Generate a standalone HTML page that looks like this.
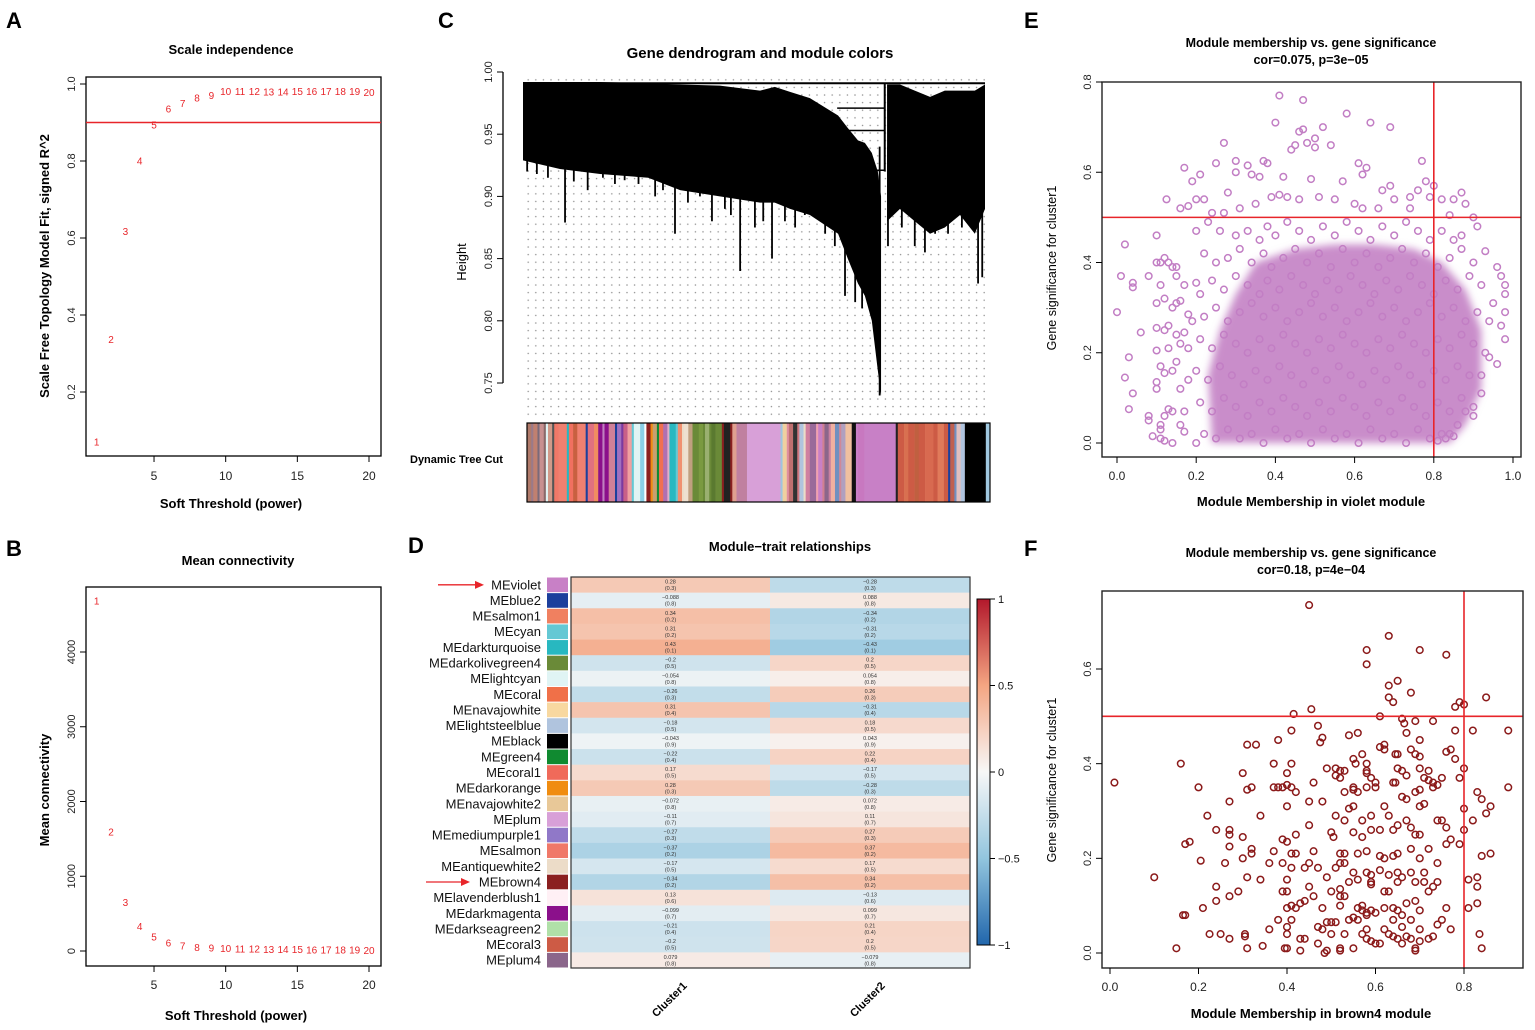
<!DOCTYPE html>
<html><head><meta charset="utf-8"><title>WGCNA figure</title>
<style>
html,body{margin:0;padding:0;background:#fff;}
svg{display:block;font-family:"Liberation Sans",Arial,sans-serif;}
.b{font-weight:bold;}
</style></head>
<body>
<svg id="fig" width="1535" height="1030" viewBox="0 0 1535 1030" xmlns="http://www.w3.org/2000/svg">
<defs>
<pattern id="dots" x="0" y="0" width="7.6" height="7.6" patternUnits="userSpaceOnUse"><circle cx="3.8" cy="3.8" r="0.75" fill="#8a8a8a"/></pattern>
<linearGradient id="cbar" x1="0" y1="0" x2="0" y2="1">
<stop offset="0" stop-color="#b2182b"/><stop offset="0.25" stop-color="#f4a582"/><stop offset="0.5" stop-color="#f7f7f7"/><stop offset="0.75" stop-color="#92c5de"/><stop offset="1" stop-color="#2166ac"/>
</linearGradient>
<filter id="soft" x="-10%" y="-10%" width="120%" height="120%"><feGaussianBlur stdDeviation="4"/></filter>
</defs>
<text x="6" y="28" font-size="22" class="b">A</text>
<text x="6" y="556" font-size="22" class="b">B</text>
<text x="438" y="28" font-size="22" class="b">C</text>
<text x="408" y="553" font-size="22" class="b">D</text>
<text x="1024" y="28" font-size="22" class="b">E</text>
<text x="1024" y="556" font-size="22" class="b">F</text>

<g>
<text x="231" y="54" font-size="13" class="b" text-anchor="middle">Scale independence</text>
<rect x="86" y="77" width="295" height="379" fill="none" stroke="#000" stroke-width="1.3"/>
<text x="231" y="508" font-size="13" class="b" text-anchor="middle">Soft Threshold (power)</text>
<text transform="translate(49,266) rotate(-90)" font-size="13" class="b" text-anchor="middle">Scale Free Topology Model Fit, signed R^2</text>
<g id="gA"></g>
</g>

<g>
<text x="238" y="565" font-size="13" class="b" text-anchor="middle">Mean connectivity</text>
<rect x="86" y="587" width="295" height="379" fill="none" stroke="#000" stroke-width="1.3"/>
<text x="236" y="1020" font-size="13" class="b" text-anchor="middle">Soft Threshold (power)</text>
<text transform="translate(49,790) rotate(-90)" font-size="13" class="b" text-anchor="middle">Mean connectivity</text>
<g id="gB"></g>
</g>

<g>
<text x="760" y="58" font-size="15" class="b" text-anchor="middle">Gene dendrogram and module colors</text>
<text transform="translate(466,262) rotate(-90)" font-size="13" text-anchor="middle">Height</text>
<text x="410" y="463" font-size="11" class="b">Dynamic Tree Cut</text>
<g id="gC"></g>
</g>

<g>
<text x="790" y="551" font-size="13" class="b" text-anchor="middle">Module−trait relationships</text>
<g id="gD"></g>
<text transform="translate(672,1002) rotate(-45)" font-size="11" class="b" text-anchor="middle">Cluster1</text>
<text transform="translate(870,1002) rotate(-45)" font-size="11" class="b" text-anchor="middle">Cluster2</text>
</g>

<g>
<text x="1311" y="47" font-size="12.5" class="b" text-anchor="middle">Module membership vs. gene significance</text>
<text x="1311" y="64" font-size="12.5" class="b" text-anchor="middle">cor=0.075, p=3e−05</text>
<text x="1311" y="506" font-size="13" class="b" text-anchor="middle">Module Membership in violet module</text>
<text transform="translate(1056,268) rotate(-90)" font-size="12.5" text-anchor="middle">Gene significance for  cluster1</text>
<g id="gE"></g>
</g>

<g>
<text x="1311" y="557" font-size="12.5" class="b" text-anchor="middle">Module membership vs. gene significance</text>
<text x="1311" y="574" font-size="12.5" class="b" text-anchor="middle">cor=0.18, p=4e−04</text>
<text x="1311" y="1018" font-size="13" class="b" text-anchor="middle">Module Membership in brown4 module</text>
<text transform="translate(1056,780) rotate(-90)" font-size="12.5" text-anchor="middle">Gene significance for  cluster1</text>
<g id="gF"></g>
</g>
</svg>

<script>
// ---------- DATA ----------
var powers = [1,2,3,4,5,6,7,8,9,10,11,12,13,14,15,16,17,18,19,20];
var fitR2 = [0.07,0.336,0.617,0.80,0.893,0.935,0.95,0.963,0.97,0.98,0.98,0.98,0.979,0.979,0.98,0.981,0.981,0.98,0.981,0.978];
var meanK = [4680,1590,650,330,190,110,65,50,40,35,30,25,22,20,18,16,14,12,11,10];
var aXTicks = [5,10,15,20];
var aYTicks = [0.2,0.4,0.6,0.8,1.0];
var aYTickLabels = ["0.2","0.4","0.6","0.8","1.0"];
var bYTicks = [0,1000,2000,3000,4000];
var r2Cutoff = 0.9;

var dendroYTicks = [0.75,0.80,0.85,0.90,0.95,1.00];
var dendroYTickLabels = ["0.75","0.80","0.85","0.90","0.95","1.00"];
var clusterALeaf = [0,8,16.7,27.1,34,42.6,51.3,54.5,57.8,62.1,68.2,70.3,72.5,74,75.5,76.8,77.5];
var clusterATop  = [.992,.992,.992,.991,.99,.989,.985,.988,.984,.979,.965,.955,.945,.943,.935,.92,.90];
var clusterABot  = [.929,.922,.918,.915,.905,.90,.895,.895,.89,.885,.87,.85,.83,.82,.80,.76,.74];
var clusterBLeaf = [78.8,81.6,84.8,88.1,91.3,94.6,97.8,100];
var clusterBTop  = [.99,.99,.985,.98,.985,.985,.985,.99];
var clusterBBot  = [.88,.89,.88,.87,.875,.885,.87,.89];
var spikeLeaf = [0.9,5.4,9.1,14,17.3,19.9,22,28.6,30.3,32.9,35.7,38.3,40.9,43.7,47,50.2,52,53.9,56.7,58.9,61,65.4,67.5,69.7,71.9,73.4,77.2,79,82,84.8,87,89.2,92,95,98.5,99.4,3,11,25,45];
var spikeBot  = [.92,.915,.879,.905,.915,.91,.913,.90,.905,.87,.895,.90,.88,.89,.84,.875,.88,.85,.88,.875,.885,.87,.86,.82,.815,.81,.74,.86,.875,.86,.855,.87,.87,.875,.83,.835,.918,.912,.91,.885];
var mergeHeights = [.971,.953,.921];
var stripeWidths = [2,1,2,1,2,1,1,2,1,2,4,1,2,2,4,1,3,2,2,1,2,3,1,2,1,2,2,1,3,2,1,2,1,2,1,2,2,1,3,1,2,1,2,2,3,2,1,2,1,2,3,1,3,1,2,5,16,1,2,1,2,2,1,2,1,2,3,1,2,1,2,1,2,2,1,2,3,2,1,3,15,1,3,2,3,2,3,4,2,3,2,1,2,1,2,2,10,2];
var stripeColors = ["#b07a6a","#9a7a8a","#c08070","#7a6a7a","#c89090","#8a6a6a","#e0f4f4","#d09a8a","#555","#f07868","#f08070","#28b8c0","#f07060","#c86040","#f08070","#1c3f9c","#e07080","#f08c60","#8b108b","#c080c0","#8b108b","#d08098","#1c3f9c","#a070c0","#7a3aa0","#c86088","#f0a0a0","#64c8d4","#e0f4f4","#8bd0e8","#fff","#8b2020","#f08c10","#c8a070","#108a30","#f07050","#b070b0","#e0b0c8","#28b8c0","#64c8d4","#f09070","#ecdcc8","#eee0d0","#c0a080","#6a8a38","#7a9a40","#6a8a38","#9ab070","#6a8a38","#5a7a30","#6a8a38","#8b2020","#222","#8b2020","#e0a090","#c080a0","#d8a0d8","#a0c4de","#f0d0a0","#e090a0","#c07070","#333","#d07880","#b0c4de","#ecdcc8","#d080a0","#9a6a9a","#f0a0b0","#c880c6","#d08090","#8b668b","#c880a0","#f0b0a0","#7090c0","#d08898","#b0a0c0","#f0c0a0","#111","#c880c6","#c878c0","#c880c6","#222","#cd5b45","#d87050","#cd5b45","#c06040","#cd5b45","#d86a50","#cd5b45","#e07a5a","#cd5b45","#1c3f9c","#c06050","#7090c0","#e0c0c0","#b0c4de","#000","#a0c8e0"];

var moduleNames = ["MEviolet","MEblue2","MEsalmon1","MEcyan","MEdarkturquoise","MEdarkolivegreen4","MElightcyan","MEcoral","MEnavajowhite","MElightsteelblue","MEblack","MEgreen4","MEcoral1","MEdarkorange","MEnavajowhite2","MEplum","MEmediumpurple1","MEsalmon","MEantiquewhite2","MEbrown4","MElavenderblush1","MEdarkmagenta","MEdarkseagreen2","MEcoral3","MEplum4"];
var moduleColors = ["#c880c6","#1c3f9c","#f08060","#64c8d4","#28b8c0","#6a8a38","#e0f4f4","#f07048","#f8d8a0","#b0c4de","#000000","#108a30","#f06a5a","#f08c10","#e8c898","#d8a0d8","#9078c8","#f07868","#ecdcc8","#8b2020","#fff0f5","#8b108b","#b0e0a8","#cd5b45","#8b668b"];
var corCluster1 = [0.28,-0.088,0.34,0.31,0.43,-0.2,-0.054,-0.26,0.31,-0.18,-0.043,-0.22,0.17,0.28,-0.072,-0.11,-0.27,-0.37,-0.17,-0.34,0.13,-0.099,-0.21,-0.2,0.079];
var corCluster2 = [-0.28,0.088,-0.34,-0.31,-0.43,0.2,0.054,0.26,-0.31,0.18,0.043,0.22,-0.17,-0.28,0.072,0.11,0.27,0.37,0.17,0.34,-0.13,0.099,0.21,0.2,-0.079];
var pvals = [0.3,0.8,0.2,0.2,0.1,0.5,0.8,0.3,0.4,0.5,0.9,0.4,0.5,0.3,0.8,0.7,0.3,0.2,0.5,0.2,0.6,0.7,0.4,0.5,0.8];
var arrowModules = ["MEviolet","MEbrown4"];
var cbarTicks = [1,0.5,0,-0.5,-1];
var cbarTickLabels = ["1","0.5","0","−0.5","−1"];

var eXTicks = [0,0.2,0.4,0.6,0.8,1.0];
var eXTickLabels = ["0.0","0.2","0.4","0.6","0.8","1.0"];
var eYTicks = [0,0.2,0.4,0.6,0.8];
var eYTickLabels = ["0.0","0.2","0.4","0.6","0.8"];
var eCutX = 0.8, eCutY = 0.5;
var eDenseX = [0.24,0.23,0.26,0.30,0.35,0.45,0.55,0.65,0.75,0.82,0.88,0.92,0.92,0.88,0.84];
var eDenseY = [0.0,0.15,0.25,0.33,0.40,0.43,0.44,0.44,0.43,0.40,0.34,0.25,0.12,0.04,0.0];
var violetPts = "0.41,0.77;0.47,0.76;0.58,0.73;0.40,0.71;0.64,0.71;0.69,0.70;0.46,0.69;0.47,0.695;0.52,0.70;0.50,0.675;0.54,0.66;0.27,0.665;0.48,0.665;0.50,0.655;0.44,0.65;0.45,0.66;0.17,0.61;0.25,0.62;0.30,0.625;0.37,0.625;0.38,0.62;0.33,0.615;0.30,0.60;0.21,0.595;0.19,0.58;0.34,0.595;0.36,0.59;0.42,0.59;0.49,0.585;0.57,0.58;0.61,0.62;0.63,0.61;0.62,0.595;0.77,0.625;0.78,0.58;0.80,0.57;0.69,0.57;0.76,0.56;0.67,0.56;0.87,0.555;0.85,0.54;0.88,0.53;0.90,0.50;0.91,0.48;0.125,0.54;0.16,0.52;0.18,0.525;0.20,0.54;0.22,0.54;0.24,0.51;0.27,0.51;0.28,0.555;0.31,0.52;0.35,0.53;0.39,0.545;0.41,0.55;0.43,0.545;0.46,0.54;0.51,0.545;0.55,0.54;0.60,0.53;0.62,0.52;0.66,0.52;0.70,0.54;0.74,0.545;0.74,0.52;0.79,0.545;0.82,0.54;0.84,0.505;0.20,0.47;0.10,0.46;0.02,0.44;0.10,0.40;0.11,0.40;0.12,0.41;0.13,0.40;0.14,0.39;0.15,0.39;0.15,0.37;0.08,0.37;0.01,0.37;0.04,0.355;0.04,0.345;0.11,0.35;0.17,0.35;0.20,0.355;0.12,0.32;0.10,0.31;0.14,0.30;0.15,0.31;0.16,0.315;0.18,0.285;0.19,0.27;0.00,0.29;0.06,0.245;0.10,0.255;0.12,0.25;0.13,0.26;0.15,0.24;0.17,0.245;0.16,0.22;0.13,0.21;0.18,0.21;0.10,0.205;0.03,0.19;0.11,0.17;0.15,0.18;0.14,0.16;0.02,0.145;0.12,0.155;0.10,0.135;0.10,0.12;0.16,0.12;0.04,0.11;0.18,0.14;0.03,0.075;0.08,0.06;0.08,0.05;0.12,0.06;0.13,0.075;0.14,0.07;0.17,0.07;0.11,0.04;0.11,0.03;0.09,0.015;0.11,0.01;0.12,0.005;0.14,0.0;0.16,0.04;0.17,0.025;0.20,0.0;0.93,0.425;0.96,0.39;0.97,0.37;0.98,0.35;0.98,0.33;0.95,0.31;0.98,0.29;0.97,0.26;0.98,0.23;0.96,0.175;0.94,0.19;0.92,0.15;0.92,0.11;0.90,0.08;0.90,0.06;0.88,0.07;0.86,0.04;0.84,0.02;0.85,0.015;0.83,0.01;0.81,0.005;" +
"0.23,0.49;0.26,0.47;0.30,0.46;0.33,0.47;0.36,0.45;0.38,0.48;0.40,0.46;0.43,0.49;0.46,0.47;0.49,0.45;0.52,0.48;0.55,0.46;0.58,0.49;0.61,0.47;0.64,0.45;0.67,0.48;0.70,0.46;0.73,0.49;0.76,0.47;0.79,0.45;0.82,0.47;0.85,0.45;0.87,0.46;" +
"0.22,0.42;0.25,0.40;0.28,0.41;0.31,0.43;0.34,0.40;0.37,0.42;0.39,0.39;0.42,0.41;0.45,0.43;0.48,0.40;0.51,0.42;0.54,0.39;0.57,0.43;0.60,0.40;0.63,0.42;0.66,0.39;0.69,0.41;0.72,0.43;0.75,0.40;0.78,0.42;0.81,0.39;0.84,0.41;0.87,0.43;0.90,0.40;" +
"0.21,0.33;0.24,0.36;0.27,0.34;0.30,0.37;0.33,0.35;0.36,0.33;0.38,0.36;0.41,0.34;0.44,0.37;0.47,0.35;0.50,0.33;0.53,0.36;0.56,0.34;0.59,0.37;0.62,0.35;0.65,0.33;0.68,0.36;0.71,0.34;0.74,0.37;0.77,0.35;0.80,0.33;0.83,0.36;0.86,0.34;0.89,0.37;0.92,0.35;" +
"0.22,0.28;0.25,0.30;0.28,0.27;0.31,0.29;0.34,0.31;0.37,0.28;0.40,0.30;0.43,0.27;0.46,0.29;0.49,0.31;0.52,0.28;0.55,0.30;0.58,0.27;0.61,0.29;0.64,0.31;0.67,0.28;0.70,0.30;0.73,0.27;0.76,0.29;0.79,0.31;0.82,0.28;0.85,0.30;0.88,0.27;0.91,0.29;0.94,0.27;" +
"0.21,0.23;0.24,0.21;0.27,0.24;0.30,0.22;0.33,0.20;0.36,0.23;0.39,0.21;0.42,0.24;0.45,0.22;0.48,0.20;0.51,0.23;0.54,0.21;0.57,0.24;0.60,0.22;0.63,0.20;0.66,0.23;0.69,0.21;0.72,0.24;0.75,0.22;0.78,0.20;0.81,0.23;0.84,0.21;0.87,0.24;0.90,0.22;0.93,0.20;" +
"0.20,0.16;0.23,0.14;0.26,0.17;0.29,0.15;0.32,0.13;0.35,0.16;0.38,0.14;0.41,0.17;0.44,0.15;0.47,0.13;0.50,0.16;0.53,0.14;0.56,0.17;0.59,0.15;0.62,0.13;0.65,0.16;0.68,0.14;0.71,0.17;0.74,0.15;0.77,0.13;0.80,0.16;0.83,0.14;0.86,0.17;0.89,0.15;" +
"0.21,0.09;0.24,0.07;0.27,0.10;0.30,0.08;0.33,0.06;0.36,0.09;0.39,0.07;0.42,0.10;0.45,0.08;0.48,0.06;0.51,0.09;0.54,0.07;0.57,0.10;0.60,0.08;0.63,0.06;0.66,0.09;0.69,0.07;0.72,0.10;0.75,0.08;0.78,0.06;0.81,0.09;0.84,0.07;0.87,0.10;" +
"0.22,0.02;0.25,0.01;0.28,0.03;0.31,0.01;0.34,0.02;0.37,0.00;0.40,0.03;0.43,0.01;0.46,0.02;0.49,0.00;0.52,0.03;0.55,0.01;0.58,0.02;0.61,0.00;0.64,0.03;0.67,0.01;0.70,0.02;0.73,0.00;0.76,0.03;0.79,0.01;0.82,0.02";

var fXTicks = [0,0.2,0.4,0.6,0.8];
var fXTickLabels = ["0.0","0.2","0.4","0.6","0.8"];
var fYTicks = [0,0.2,0.4,0.6];
var fYTickLabels = ["0.0","0.2","0.4","0.6"];
var fCutX = 0.8, fCutY = 0.5;
var brownPts = "0.45,0.735;0.63,0.67;0.58,0.64;0.70,0.64;0.76,0.63;0.58,0.61;0.65,0.575;0.63,0.565;0.68,0.55;0.63,0.54;0.64,0.53;0.85,0.54;0.79,0.53;0.78,0.52;0.80,0.525;0.455,0.515;0.415,0.505;0.61,0.50;0.66,0.495;0.69,0.49;0.73,0.49;0.665,0.485;0.47,0.48;0.41,0.47;0.82,0.47;0.90,0.47;0.78,0.47;0.67,0.465;0.56,0.465;0.54,0.46;0.48,0.455;0.475,0.445;0.38,0.45;0.70,0.45;0.31,0.44;0.33,0.44;0.62,0.44;0.61,0.435;0.62,0.43;0.77,0.43;0.76,0.425;0.68,0.43;0.69,0.42;0.70,0.415;0.78,0.41;0.16,0.40;0.37,0.40;0.41,0.40;0.57,0.42;0.55,0.41;0.58,0.40;0.555,0.40;0.645,0.42;0.65,0.42;0.65,0.39;0.66,0.385;0.49,0.39;0.51,0.39;0.52,0.385;0.53,0.385;0.58,0.385;0.58,0.38;0.70,0.39;0.72,0.385;0.80,0.39;0.30,0.38;0.40,0.38;0.51,0.375;0.52,0.37;0.59,0.37;0.60,0.36;0.64,0.36;0.645,0.36;0.67,0.375;0.71,0.37;0.72,0.365;0.73,0.36;0.74,0.355;0.73,0.35;0.79,0.37;0.75,0.37;0.01,0.36;0.20,0.35;0.31,0.345;0.32,0.35;0.38,0.35;0.37,0.35;0.39,0.35;0.40,0.355;0.41,0.35;0.42,0.34;0.46,0.36;0.53,0.34;0.55,0.345;0.56,0.34;0.55,0.35;0.58,0.35;0.60,0.35;0.66,0.33;0.67,0.325;0.69,0.34;0.70,0.345;0.83,0.34;0.84,0.325;0.90,0.35;0.27,0.32;0.40,0.31;0.45,0.32;0.48,0.32;0.54,0.305;0.55,0.31;0.62,0.31;0.70,0.31;0.71,0.315;0.80,0.305;0.86,0.31;0.85,0.295;0.22,0.29;0.34,0.29;0.51,0.29;0.53,0.28;0.57,0.28;0.59,0.29;0.63,0.29;0.67,0.28;0.74,0.28;0.75,0.28;0.82,0.28;0.24,0.26;0.27,0.26;0.27,0.25;0.30,0.245;0.42,0.25;0.45,0.27;0.50,0.255;0.505,0.245;0.55,0.255;0.57,0.245;0.59,0.26;0.61,0.26;0.64,0.26;0.65,0.27;0.68,0.265;0.69,0.25;0.70,0.25;0.76,0.265;0.77,0.24;0.80,0.26;0.79,0.23;0.17,0.23;0.18,0.235;0.27,0.225;0.32,0.22;0.32,0.21;0.37,0.215;0.39,0.24;0.40,0.235;0.41,0.21;0.42,0.21;0.46,0.215;0.52,0.21;0.53,0.21;0.56,0.21;0.58,0.215;0.61,0.205;0.62,0.20;0.64,0.205;0.65,0.21;0.68,0.22;0.70,0.20;0.72,0.22;0.76,0.23;0.84,0.205;0.86,0.21;0.205,0.195;0.26,0.19;0.30,0.20;0.36,0.19;0.39,0.19;0.41,0.18;0.44,0.18;0.45,0.19;0.47,0.18;0.51,0.18;0.52,0.19;0.53,0.19;0.55,0.17;0.58,0.17;0.59,0.165;0.61,0.175;0.65,0.17;0.66,0.16;0.68,0.17;0.71,0.17;0.74,0.19;0.10,0.16;0.31,0.16;0.34,0.155;0.40,0.155;0.45,0.14;0.49,0.16;0.54,0.15;0.56,0.155;0.59,0.15;0.63,0.165;0.65,0.15;0.69,0.15;0.71,0.15;0.74,0.15;0.81,0.155;0.83,0.16;0.83,0.14;0.24,0.14;0.29,0.13;0.39,0.13;0.40,0.13;0.46,0.12;0.50,0.13;0.52,0.135;0.52,0.12;0.53,0.12;0.59,0.145;0.62,0.13;0.63,0.13;0.69,0.11;0.72,0.13;0.73,0.14;0.27,0.12;0.24,0.11;0.21,0.095;0.40,0.095;0.41,0.10;0.42,0.095;0.43,0.105;0.44,0.11;0.48,0.095;0.52,0.10;0.56,0.095;0.57,0.09;0.57,0.10;0.58,0.085;0.59,0.09;0.60,0.085;0.62,0.095;0.64,0.095;0.65,0.09;0.67,0.105;0.70,0.09;0.76,0.095;0.81,0.095;0.83,0.105;0.17,0.08;0.165,0.08;0.38,0.07;0.41,0.07;0.49,0.065;0.50,0.065;0.51,0.065;0.54,0.07;0.55,0.075;0.56,0.07;0.58,0.08;0.64,0.07;0.66,0.08;0.68,0.07;0.74,0.06;0.75,0.07;0.36,0.05;0.40,0.055;0.47,0.055;0.48,0.05;0.58,0.05;0.62,0.05;0.66,0.055;0.70,0.05;0.77,0.05;0.225,0.04;0.25,0.04;0.27,0.03;0.305,0.035;0.305,0.04;0.40,0.04;0.43,0.03;0.44,0.03;0.50,0.04;0.53,0.04;0.57,0.04;0.58,0.03;0.59,0.025;0.60,0.02;0.61,0.02;0.63,0.04;0.64,0.035;0.65,0.03;0.66,0.02;0.67,0.035;0.68,0.03;0.70,0.025;0.72,0.03;0.73,0.035;0.835,0.04;0.15,0.01;0.31,0.01;0.345,0.015;0.395,0.01;0.40,0.01;0.43,0.005;0.47,0.02;0.49,0.005;0.485,0.0;0.52,0.005;0.52,0.01;0.55,0.01;0.69,0.01;0.69,0.005;0.84,0.01";

// ---------- HELPERS ----------
var NS = "http://www.w3.org/2000/svg";
function mk(tag, parent, attrs){ var e=document.createElementNS(NS,tag); for(var k in attrs) e.setAttribute(k,attrs[k]); parent.appendChild(e); return e; }
function lin(d0,d1,r0,r1){ return function(v){ return r0+(v-d0)*(r1-r0)/(d1-d0); }; }
function parsePts(s){ return s.split(";").map(function(p){ var a=p.split(","); return [parseFloat(a[0]),parseFloat(a[1])]; }); }
function lerpColor(a,b,t){ var pa=[parseInt(a.substr(1,2),16),parseInt(a.substr(3,2),16),parseInt(a.substr(5,2),16)]; var pb=[parseInt(b.substr(1,2),16),parseInt(b.substr(3,2),16),parseInt(b.substr(5,2),16)]; return "rgb("+pa.map(function(v,i){return Math.round(v+(pb[i]-v)*t);}).join(",")+")"; }
function corColor(v){ if(v>=0){ return v<0.5? lerpColor("#f7f7f7","#f4a582",v/0.5) : lerpColor("#f4a582","#b2182b",(v-0.5)/0.5);} var a=-v; return a<0.5? lerpColor("#f7f7f7","#92c5de",a/0.5) : lerpColor("#92c5de","#2166ac",(a-0.5)/0.5); }

function yTicksRot(g, ticks, labels, sy, xAxis, name){
  ticks.forEach(function(t,i){
    var y=sy(t);
    var l=mk("line",g,{x1:xAxis-6,x2:xAxis,y1:y,y2:y,stroke:"#000","stroke-width":1});
    
    
    var tx=mk("text",g,{transform:"translate("+(xAxis-11)+","+y+") rotate(-90)","font-size":11,"text-anchor":"middle",fill:"#222"});
    tx.textContent=labels[i];
    
    
  });
}
function xTicks(g, ticks, labels, sx, yAxis, labY, name){
  ticks.forEach(function(t,i){
    var x=sx(t);
    var l=mk("line",g,{x1:x,x2:x,y1:yAxis,y2:yAxis+6,stroke:"#000","stroke-width":1});
    
    
    var tx=mk("text",g,{x:x,y:labY,"font-size":12,"text-anchor":"middle",fill:"#222"});
    tx.textContent=labels[i];
    
    
  });
}

// ---------- PANEL A ----------
(function(){
  var g=document.getElementById("gA");
  var sx=lin(1,20,96.7,369), sy=lin(1,0,84,469);
  xTicks(g,aXTicks,aXTicks.map(String),sx,456,480,"panel-a-x");
  yTicksRot(g,aYTicks,aYTickLabels,sy,86,"panel-a-y");
  var h=mk("line",g,{x1:86,x2:381,y1:sy(r2Cutoff),y2:sy(r2Cutoff),stroke:"#e8252a","stroke-width":1.5});
  
  
  powers.forEach(function(p,i){
    var t=mk("text",g,{x:sx(p),y:sy(fitR2[i])+3.5,"font-size":10,"text-anchor":"middle",fill:"#e8252a"});
    t.textContent=String(p);
    
    
  });
})();

// ---------- PANEL B ----------
(function(){
  var g=document.getElementById("gB");
  var sx=lin(1,20,96.7,369), sy=lin(0,4000,951,652);
  xTicks(g,aXTicks,aXTicks.map(String),sx,966,989,"panel-b-x");
  yTicksRot(g,bYTicks,bYTicks.map(String),sy,86,"panel-b-y");
  powers.forEach(function(p,i){
    var t=mk("text",g,{x:sx(p),y:sy(meanK[i])+3.5,"font-size":10,"text-anchor":"middle",fill:"#e8252a"});
    t.textContent=String(p);
    
    
  });
})();

// ---------- PANEL C ----------
(function(){
  var g=document.getElementById("gC");
  var sx=lin(0,100,523,985), sy=lin(1,0.75,72,383);
  var ax=mk("line",g,{x1:503,x2:503,y1:sy(1.0),y2:sy(0.75),stroke:"#000","stroke-width":1.3});
  
  
  yTicksRot(g,dendroYTicks,dendroYTickLabels,sy,503,"dendrogram-y");
  var bg=mk("rect",g,{x:523,y:sy(0.995),width:462,height:418-sy(0.995),fill:"url(#dots)"});
  
  
  function poly(leaf,top,bot,name){
    var pts=[]; leaf.forEach(function(l,i){ pts.push(sx(l)+","+sy(top[i])); });
    for(var i=leaf.length-1;i>=0;i--) pts.push(sx(leaf[i])+","+sy(bot[i]));
    var p=mk("polygon",g,{points:pts.join(" "),fill:"#000"});
    
    
  }
  poly(clusterALeaf,clusterATop,clusterABot,'dendrogram-branches-left');
  poly(clusterBLeaf,clusterBTop,clusterBBot,'dendrogram-branches-right');
  spikeLeaf.forEach(function(l,i){
    var s=mk("line",g,{x1:sx(l),x2:sx(l),y1:sy(0.94),y2:sy(spikeBot[i]),stroke:"#000","stroke-width":1.8});
    
    
  });
  var top=mk("line",g,{x1:sx(0),x2:sx(100),y1:sy(0.991),y2:sy(0.991),stroke:"#000","stroke-width":2});
  
  
  var v=mk("line",g,{x1:sx(78.3),x2:sx(78.3),y1:sy(0.991),y2:sy(0.92),stroke:"#000","stroke-width":2});
  
  
  mergeHeights.forEach(function(hh){
    var m=mk("line",g,{x1:sx(68),x2:sx(78.3),y1:sy(hh),y2:sy(hh),stroke:"#000","stroke-width":1.5});
    
    
  });
  var total=stripeWidths.reduce(function(a,b){return a+b;},0);
  var cx=lin(0,total,527,990), acc=0;
  stripeWidths.forEach(function(w,i){
    var r=mk("rect",g,{x:cx(acc),y:423,width:cx(acc+w)-cx(acc)+0.3,height:79,fill:stripeColors[i%stripeColors.length]});
    
    
    acc+=w;
  });
  var fr=mk("rect",g,{x:527,y:423,width:463,height:79,fill:"none",stroke:"#000","stroke-width":1.2});
  
  
})();

// ---------- PANEL D ----------
(function(){
  var g=document.getElementById("gD");
  var top=577, bot=968, n=moduleNames.length, rh=(bot-top)/n;
  var c0=571, cm=770, c1=970;
  moduleNames.forEach(function(name,i){
    var y=top+i*rh;
    var lb=mk("text",g,{x:541,y:y+rh/2+4.5,"font-size":13,"text-anchor":"end",fill:"#111"});
    lb.textContent=name;
    
    
    var sw=mk("rect",g,{x:547,y:y+0.5,width:21,height:rh-1,fill:moduleColors[i]});
    
    
    [[c0,cm,corCluster1[i]],[cm,c1,corCluster2[i]]].forEach(function(c,j){
      var cell=mk("rect",g,{x:c[0],y:y,width:c[1]-c[0],height:rh+0.3,fill:corColor(c[2])});
      
      
      var t1=mk("text",g,{x:(c[0]+c[1])/2,y:y+6.5,"font-size":5.5,"text-anchor":"middle",fill:"#333"});
      t1.textContent=String(c[2]).replace("-","−");
      
      
      var t2=mk("text",g,{x:(c[0]+c[1])/2,y:y+13,"font-size":5.5,"text-anchor":"middle",fill:"#333"});
      t2.textContent="("+pvals[i]+")";
      
      
    });
    if(arrowModules.indexOf(name)>=0){
      var ln=mk("line",g,{x1:name=="MEviolet"?438:426,x2:name=="MEviolet"?476:462,y1:y+rh/2,y2:y+rh/2,stroke:"#e8252a","stroke-width":1.3});
      
      
      var ex=name=="MEviolet"?484:470;
      var hd=mk("polygon",g,{points:(ex-9)+","+(y+rh/2-4)+" "+ex+","+(y+rh/2)+" "+(ex-9)+","+(y+rh/2+4),fill:"#e8252a"});
      
      
    }
  });
  var fr=mk("rect",g,{x:c0,y:top,width:c1-c0,height:bot-top,fill:"none",stroke:"#333","stroke-width":1.2});
  
  
  var sc=lin(1,-1,599,945);
  var cb=mk("rect",g,{x:977,y:599,width:13,height:346,fill:"url(#cbar)",stroke:"#000","stroke-width":1});
  
  
  cbarTicks.forEach(function(t,i){
    var l=mk("line",g,{x1:990,x2:995,y1:sc(t),y2:sc(t),stroke:"#000"});
    
    
    var tx=mk("text",g,{x:998,y:sc(t)+4,"font-size":11,fill:"#111"});
    tx.textContent=cbarTickLabels[i];
    
    
  });
})();

// ---------- SCATTER ----------
function scatter(gid, box, xd, xr, yd, yr, xt, xtl, yt, ytl, cutX, cutY, pts, stroke, prefix, dense){
  var g=document.getElementById(gid);
  var sx=lin(xd[0],xd[1],xr[0],xr[1]), sy=lin(yd[0],yd[1],yr[0],yr[1]);
  if(dense){
    var dp=dense[0].map(function(x,i){ return sx(x)+","+sy(dense[1][i]); }).join(" ");
    var d=mk("polygon",g,{points:dp,fill:"#c98dca",filter:"url(#soft)"});
    
    
  }
  parsePts(pts).forEach(function(p){
    var c=mk("circle",g,{cx:sx(p[0]),cy:sy(p[1]),r:3.3,fill:"none",stroke:stroke,"stroke-width":1.5});
    
    
  });
  var v=mk("line",g,{x1:sx(cutX),x2:sx(cutX),y1:box[1],y2:box[3],stroke:"#e8252a","stroke-width":1.6});
  
  
  var h=mk("line",g,{x1:box[0],x2:box[2],y1:sy(cutY),y2:sy(cutY),stroke:"#e8252a","stroke-width":1.6});
  
  
  var fr=mk("rect",g,{x:box[0],y:box[1],width:box[2]-box[0],height:box[3]-box[1],fill:"none",stroke:"#222","stroke-width":1.4});
  
  
  xTicks(g,xt,xtl,sx,box[3],box[3]+23,prefix+'-x');
  yTicksRot(g,yt,ytl,sy,box[0],prefix+'-y');
}
scatter("gE",[1102,82,1521,457],[0,1],[1117,1513],[0,0.8],[443,82],eXTicks,eXTickLabels,eYTicks,eYTickLabels,eCutX,eCutY,violetPts,"#c27ec4","panel-e",[eDenseX,eDenseY]);
scatter("gF",[1102,591,1523,968],[0,0.8],[1110,1464],[0,0.6],[953,669],fXTicks,fXTickLabels,fYTicks,fYTickLabels,fCutX,fCutY,brownPts,"#8b1a1a","panel-f",null);
</script>
</body></html>
